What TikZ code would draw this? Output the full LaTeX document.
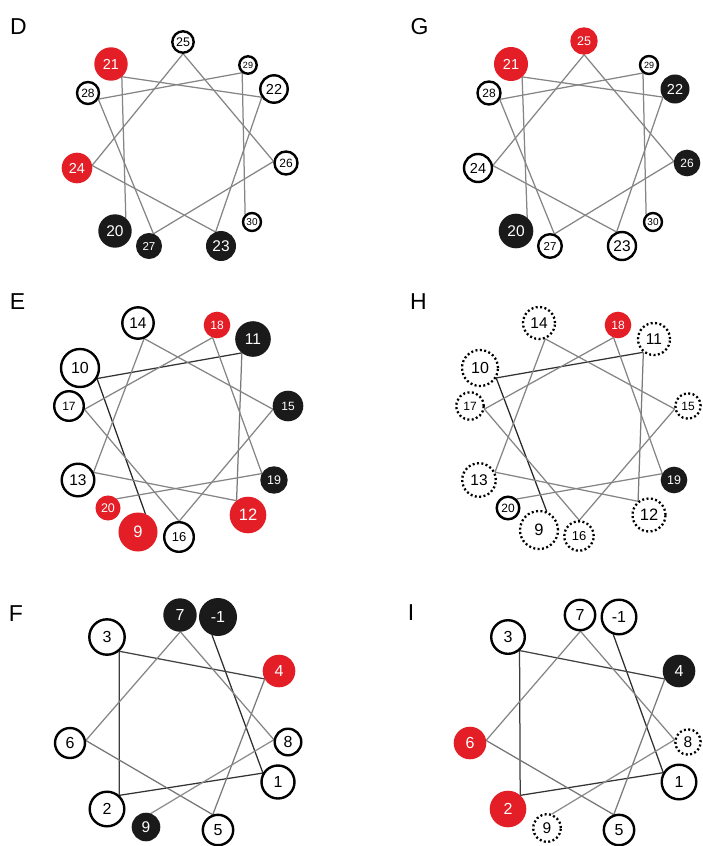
\documentclass[tikz,border=0pt]{standalone}
\usepackage{fontspec}
\setmainfont{Liberation Sans}
\usetikzlibrary{calc,backgrounds}
\definecolor{rd}{HTML}{E41E26}
\definecolor{bk}{HTML}{1A1A1A}
\tikzset{
 res/.style={circle, inner sep=0pt, outer sep=0pt},
 ofill/.style={res, draw=black, line width=2.4pt, fill=white, text=black},
 dfill/.style={res, draw=black, line width=2.3pt, dash pattern=on 2pt off 2.4pt, fill=white, text=black},
 rfill/.style={res, fill=rd, draw=rd, line width=2pt, text=white},
 bfill/.style={res, fill=bk, draw=bk, line width=2pt, text=white},
 lab/.style={inner sep=0pt, font=\fontsize{23}{23}\selectfont},
 lnk/.style={line width=1.25pt},
}
% #1 name, #2 x, #3 y, #4 radius, #5 style, #6 font size, #7 label
\newcommand\res[7]{%
 \node[#5, minimum size={2*#4pt-2pt}, font=\fontsize{#6}{#6}\selectfont] (#1) at (#2,#3) {#7};
 \coordinate (#1c) at ($(#1)!#4pt!(W)$);}
\newcommand\lk[3]{\draw[lnk, draw=#1] (#2c) -- (#3c);}
\begin{document}
\begin{tikzpicture}[x=1pt,y=-1pt]
\useasboundingbox (0,0) rectangle (702,846);
% ===== D =====
\node[lab] (LD) at (18.5,27) {D};
\coordinate (W) at (184,150);
\res{d25}{183}{42}{11.7}{ofill}{12.5}{25}
\res{d21}{111}{64}{16.7}{rfill}{14.5}{21}
\res{d29}{248}{65}{9.7}{ofill}{9}{29}
\res{d22}{274}{89}{14.7}{ofill}{14.5}{22}
\res{d28}{88}{93}{12}{ofill}{12}{28}
\res{d24}{77}{168}{15.3}{rfill}{14.5}{24}
\res{d26}{286}{163}{12.5}{ofill}{12}{26}
\res{d30}{252}{222}{10}{ofill}{10}{30}
\res{d20}{115}{231}{16.7}{bfill}{15.5}{20}
\res{d27}{149}{246}{13}{bfill}{11.5}{27}
\res{d23}{221}{246}{15}{bfill}{15.5}{23}
\begin{pgfonlayer}{background}
\lk{black!48}{d20}{d21}\lk{black!48}{d21}{d22}\lk{black!48}{d22}{d23}
\lk{black!48}{d23}{d24}\lk{black!48}{d24}{d25}\lk{black!48}{d25}{d26}
\lk{black!48}{d26}{d27}\lk{black!48}{d27}{d28}\lk{black!48}{d28}{d29}
\lk{black!48}{d29}{d30}
\end{pgfonlayer}
% ===== G =====
\node[lab] (LG) at (419.5,27) {G};
\coordinate (W) at (585,150);
\res{g25}{584}{41}{13.7}{rfill}{12.5}{25}
\res{g21}{511}{64}{17}{rfill}{14.5}{21}
\res{g29}{649}{65}{10}{ofill}{9}{29}
\res{g22}{675}{89}{14.5}{bfill}{14.5}{22}
\res{g28}{489}{93}{12.5}{ofill}{12}{28}
\res{g24}{478}{168}{15}{ofill}{14.5}{24}
\res{g26}{687}{163}{13.3}{bfill}{12}{26}
\res{g30}{653}{222}{10}{ofill}{10}{30}
\res{g20}{516}{231}{17.3}{bfill}{15.5}{20}
\res{g27}{550}{246}{12.8}{ofill}{11.5}{27}
\res{g23}{622}{246}{15}{ofill}{15.5}{23}
\begin{pgfonlayer}{background}
\lk{black!48}{g20}{g21}\lk{black!48}{g21}{g22}\lk{black!48}{g22}{g23}
\lk{black!48}{g23}{g24}\lk{black!48}{g24}{g25}\lk{black!48}{g25}{g26}
\lk{black!48}{g26}{g27}\lk{black!48}{g27}{g28}\lk{black!48}{g28}{g29}
\lk{black!48}{g29}{g30}
\end{pgfonlayer}
% ===== E =====
\node[lab] (LE) at (17.5,302) {E};
\coordinate (W) at (180,430);
\res{e14}{138}{323}{16.7}{ofill}{15.5}{14}
\res{e18}{217}{325}{13.3}{rfill}{12}{18}
\res{e11}{253}{339}{17.8}{bfill}{15.5}{11}
\res{e10}{80}{368}{20}{ofill}{16}{10}
\res{e17}{69}{406}{15.8}{ofill}{12}{17}
\res{e15}{288}{406}{15.3}{bfill}{12}{15}
\res{e13}{78}{480}{17.3}{ofill}{15.5}{13}
\res{e19}{274}{480}{13.7}{bfill}{12.5}{19}
\res{e20}{108}{508}{12.5}{rfill}{12.5}{20}
\res{e12}{248}{515}{18.3}{rfill}{16.5}{12}
\res{e9}{138}{532}{19.5}{rfill}{16.5}{9}
\res{e16}{179}{537}{15.8}{ofill}{13}{16}
\begin{pgfonlayer}{background}
\lk{black!85}{e9}{e10}\lk{black!80}{e10}{e11}\lk{black!52}{e11}{e12}
\lk{black!48}{e12}{e13}\lk{black!48}{e13}{e14}\lk{black!48}{e14}{e15}
\lk{black!48}{e15}{e16}\lk{black!48}{e16}{e17}\lk{black!48}{e17}{e18}
\lk{black!48}{e18}{e19}\lk{black!48}{e19}{e20}
\end{pgfonlayer}
% ===== H =====
\node[lab] (LH) at (418.5,302) {H};
\coordinate (W) at (581,430);
\res{h14}{539}{323}{17}{dfill}{15.5}{14}
\res{h18}{618}{325}{13.3}{rfill}{12}{18}
\res{h11}{654}{339}{17}{dfill}{15.5}{11}
\res{h10}{480}{368}{19}{dfill}{16}{10}
\res{h17}{470}{406}{14.7}{dfill}{12}{17}
\res{h15}{688}{406}{13.7}{dfill}{12}{15}
\res{h13}{479}{480}{17.8}{dfill}{15.5}{13}
\res{h19}{674}{480}{13.3}{bfill}{12.5}{19}
\res{h20}{508}{508}{12.3}{ofill}{12}{20}
\res{h12}{649}{515}{17.5}{dfill}{16.5}{12}
\res{h9}{539}{530}{20}{dfill}{16.5}{9}
\res{h16}{579}{536}{15.7}{dfill}{13}{16}
\begin{pgfonlayer}{background}
\lk{black!85}{h9}{h10}\lk{black!80}{h10}{h11}\lk{black!52}{h11}{h12}
\lk{black!48}{h12}{h13}\lk{black!48}{h13}{h14}\lk{black!48}{h14}{h15}
\lk{black!48}{h15}{h16}\lk{black!48}{h16}{h17}\lk{black!48}{h17}{h18}
\lk{black!48}{h18}{h19}\lk{black!48}{h19}{h20}
\end{pgfonlayer}
% ===== F =====
\node[lab] (LF) at (16,614) {F};
\coordinate (W) at (182,725);
\res{f7}{180}{615}{16.7}{bfill}{16}{7}
\res{fm1}{218}{617}{19}{bfill}{16}{-1}
\res{f3}{107}{637}{18.7}{ofill}{16}{3}
\res{f4}{279}{671}{16.3}{rfill}{16}{4}
\res{f6}{70}{743}{16}{ofill}{16}{6}
\res{f8}{288}{742}{14.3}{ofill}{16}{8}
\res{f1}{278}{782}{17.5}{ofill}{16}{1}
\res{f2}{107}{809}{18.3}{ofill}{16}{2}
\res{f9}{146}{827}{14.3}{bfill}{15.5}{9}
\res{f5}{218}{830}{16.2}{ofill}{16}{5}
\begin{pgfonlayer}{background}
\lk{black!82}{fm1}{f1}\lk{black!80}{f1}{f2}\lk{black!76}{f2}{f3}
\lk{black!74}{f3}{f4}\lk{black!52}{f4}{f5}\lk{black!54}{f5}{f6}
\lk{black!48}{f6}{f7}\lk{black!48}{f7}{f8}\lk{black!45}{f8}{f9}
\end{pgfonlayer}
% ===== I =====
\node[lab] (LI) at (411,613) {I};
\coordinate (W) at (583,725);
\res{i7}{580}{615}{16.2}{ofill}{16}{7}
\res{im1}{619}{617}{18.3}{ofill}{16}{-1}
\res{i3}{508}{637}{17.8}{ofill}{16}{3}
\res{i4}{679}{671}{16.3}{bfill}{16}{4}
\res{i6}{470}{743}{16.3}{rfill}{16}{6}
\res{i8}{688}{742}{13.7}{dfill}{15.5}{8}
\res{i1}{679}{782}{18.3}{ofill}{16}{1}
\res{i2}{508}{809}{18.3}{rfill}{16}{2}
\res{i9}{547}{828}{14.8}{dfill}{15.5}{9}
\res{i5}{619}{830}{16.2}{ofill}{16}{5}
\begin{pgfonlayer}{background}
\lk{black!82}{im1}{i1}\lk{black!80}{i1}{i2}\lk{black!76}{i2}{i3}
\lk{black!74}{i3}{i4}\lk{black!52}{i4}{i5}\lk{black!54}{i5}{i6}
\lk{black!48}{i6}{i7}\lk{black!48}{i7}{i8}\lk{black!45}{i8}{i9}
\end{pgfonlayer}
\end{tikzpicture}
\end{document}
